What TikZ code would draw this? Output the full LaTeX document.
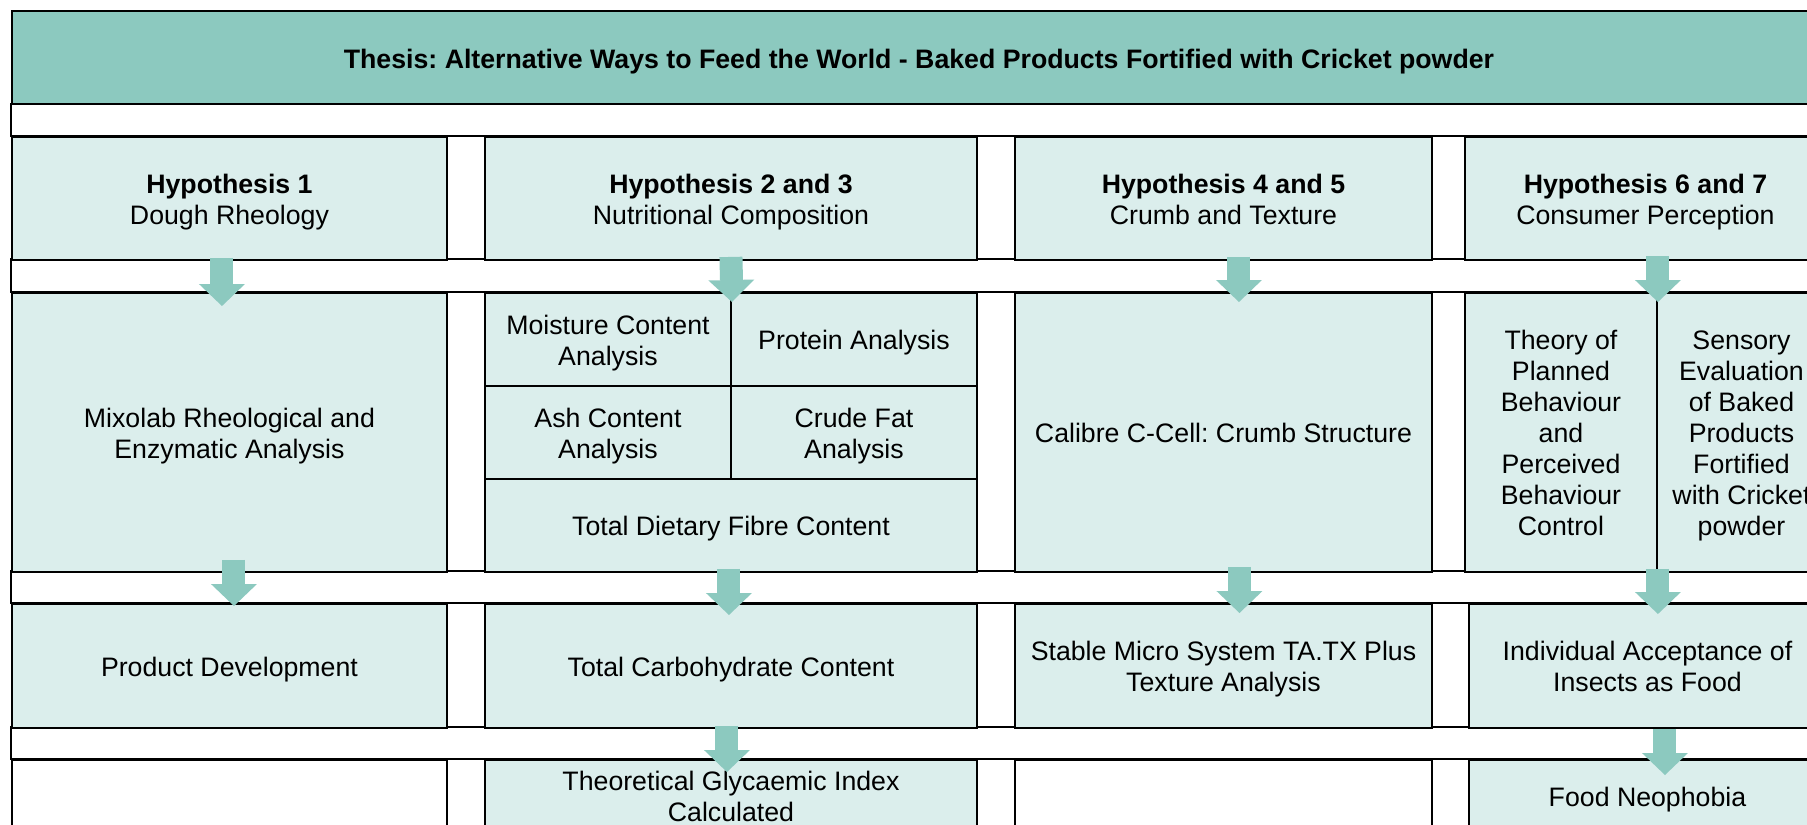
\documentclass[tikz,border=0pt]{standalone}
\usepackage{fontspec}
\setmainfont{Liberation Sans}
\frenchspacing
\usetikzlibrary{arrows.meta,calc}
\definecolor{headteal}{RGB}{140,201,191}
\definecolor{cellteal}{RGB}{219,238,236}

\begin{document}
\begin{tikzpicture}[
    cell/.style n args={2}{rectangle, draw=black, line width=1.1pt, fill=cellteal,
                 anchor=north west, inner sep=0pt, minimum width=#1, minimum height=#2,
                 text width=#1-0.3cm, align=flush center, font=\fontsize{15.2}{17.6}\selectfont,
                 execute at begin node=\rule{0pt}{17pt}, execute at end node=\strut},
    blank/.style n args={2}{cell={#1}{#2}, fill=white},
    banner/.style n args={2}{cell={#1}{#2}, fill=headteal,
                 font=\bfseries\fontsize{15.2}{17.6}\selectfont},
    strip/.style={draw=black, line width=1.1pt, fill=white},
    flow/.style={draw=headteal, line width=0.46cm,
                 -{Triangle[length=0.44cm, width=0.92cm, line width=0pt]}}
]

\useasboundingbox (0,0) rectangle (36.14,-16.48);
\clip (0,0) rectangle (36.14,-16.48);

% Title bar
\node[banner={36.28cm}{1.88cm}] (thesis) at (0.22,-0.20)
     {Thesis: Alternative Ways to Feed the World - Baked Products Fortified with Cricket powder};

% White separator strips between the rows
\draw[strip] (0.22,-2.08) rectangle (36.50,-2.72);
\draw[strip] (0.22,-5.18) rectangle (36.50,-5.84);
\draw[strip] (0.22,-11.42) rectangle (36.50,-12.06);
\draw[strip] (0.22,-14.54) rectangle (36.50,-15.18);

% Hypotheses
\node[cell={8.70cm}{2.46cm}] (hypA) at (0.22,-2.72)
     {\textbf{Hypothesis 1}\\Dough Rheology};
\node[cell={9.84cm}{2.46cm}] (hypB) at (9.68,-2.72)
     {\textbf{Hypothesis 2 and 3}\\Nutritional Composition};
\node[cell={8.34cm}{2.46cm}] (hypC) at (20.28,-2.72)
     {\textbf{Hypothesis 4 and 5}\\Crumb and Texture};
\node[cell={7.22cm}{2.46cm}] (hypD) at (29.28,-2.72)
     {\textbf{Hypothesis 6 and 7}\\Consumer Perception};

% Methods
\node[cell={8.70cm}{5.58cm}] (mixolab) at (0.22,-5.84)
     {Mixolab Rheological and\\Enzymatic Analysis};
\node[cell={4.92cm}{1.86cm}] (moist) at (9.68,-5.84)
     {Moisture Content\\Analysis};
\node[cell={4.92cm}{1.86cm}] (protein) at (14.60,-5.84)
     {Protein Analysis};
\node[cell={4.92cm}{1.86cm}] (ash) at (9.68,-7.70)
     {Ash Content\\Analysis};
\node[cell={4.92cm}{1.86cm}] (fat) at (14.60,-7.70)
     {Crude Fat\\Analysis};
\node[cell={9.84cm}{1.86cm}] (fibre) at (9.68,-9.56)
     {Total Dietary Fibre Content};
\node[cell={8.34cm}{5.58cm}] (ccell) at (20.28,-5.84)
     {Calibre C-Cell: Crumb Structure};
\node[cell={3.84cm}{5.58cm}] (tpb) at (29.28,-5.84)
     {Theory of\\Planned\\Behaviour\\and\\Perceived\\Behaviour\\Control};
\node[cell={3.38cm}{5.58cm}] (sensory) at (33.12,-5.84)
     {Sensory\\Evaluation\\of Baked\\Products\\Fortified\\with Cricket\\powder};

% Outcomes
\node[cell={8.70cm}{2.48cm}] (product) at (0.22,-12.06)
     {Product Development};
\node[cell={9.84cm}{2.48cm}] (carb) at (9.68,-12.06)
     {Total Carbohydrate Content};
\node[cell={8.34cm}{2.48cm}] (texture) at (20.28,-12.06)
     {Stable Micro System TA.TX Plus\\Texture Analysis};
\node[cell={7.14cm}{2.48cm}] (accept) at (29.36,-12.06)
     {Individual Acceptance of\\Insects as Food};

% Last row
\node[blank={8.70cm}{1.44cm}] (emptyA) at (0.22,-15.18) {};
\node[cell={9.84cm}{1.44cm}] (gi) at (9.68,-15.18)
     {Theoretical Glycaemic Index\\Calculated};
\node[blank={8.34cm}{1.44cm}] (emptyC) at (20.28,-15.18) {};
\node[cell={7.14cm}{1.44cm}] (neo) at (29.36,-15.18)
     {Food Neophobia};

% Block arrows
\draw[flow] ($(hypA.south)+(-0.15,0.06)$) -- ($(mixolab.north)+(-0.15,-0.28)$);
\draw[flow] ($(hypB.south)+(0,0.08)$) -- ($(moist.north east)+(0,-0.20)$);
\draw[flow] ($(hypC.south)+(0.31,0.08)$) -- ($(ccell.north)+(0.31,-0.20)$);
\draw[flow] ($(hypD.south -| tpb.east)+(0,0.10)$) -- ($(tpb.north east)+(0,-0.20)$);

\draw[flow] ($(mixolab.south)+(0.09,0.26)$) -- ($(product.north)+(0.09,-0.06)$);
\draw[flow] ($(fibre.south)+(-0.04,0.08)$) -- ($(carb.north)+(-0.04,-0.24)$);
\draw[flow] ($(ccell.south)+(0.32,0.12)$) -- ($(texture.north)+(0.32,-0.20)$);
\draw[flow] ($(tpb.south east)+(0,0.08)$) -- ($(accept.north -| tpb.south east)+(0,-0.22)$);

\draw[flow] ($(carb.south)+(-0.08,0.06)$) -- ($(gi.north)+(-0.08,-0.26)$);
\draw[flow] ($(accept.south)+(0.35,0)$) -- ($(neo.north)+(0.35,-0.32)$);

\end{tikzpicture}
\end{document}
